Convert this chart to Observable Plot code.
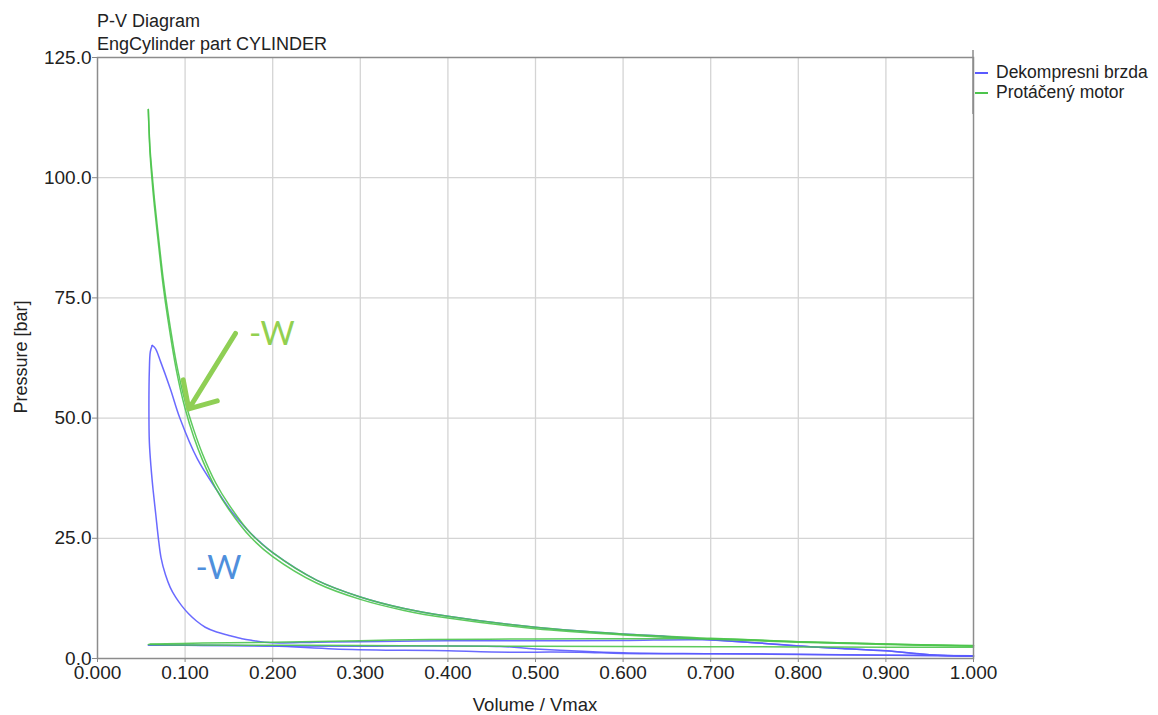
<!DOCTYPE html>
<html><head><meta charset="utf-8">
<script src="https://cdn.jsdelivr.net/npm/d3@7"></script>
<script src="https://cdn.jsdelivr.net/npm/@observablehq/plot@0.6"></script>
<style>body{margin:0;background:#fff}#chart svg{display:block}</style>
</head><body><div id="chart"></div>
<script>
// ---- Data ----
const titleLines = ["P-V Diagram", "EngCylinder part CYLINDER"];
const xLabel = "Volume / Vmax";
const yLabel = "Pressure [bar]";
const xTicks = [0, 0.1, 0.2, 0.3, 0.4, 0.5, 0.6, 0.7, 0.8, 0.9, 1.0];
const yTicks = [0, 25, 50, 75, 100, 125];
const seriesNames = ["Dekompresni brzda", "Protáčený motor"];
const seriesColors = ["#5a5aff", "#4cc44c"];

// Protáčený motor (motored engine) — [V/Vmax, p bar]
const motorCompression = [[1.0,2.6],[0.9,3.0],[0.8,3.5],[0.7,4.2],[0.6,5.1],[0.5,6.5],[0.4,8.8],[0.35,10.4],[0.3,12.8],[0.25,16.3],[0.2,22.0],[0.175,26.0],[0.15,32.0],[0.135,36.5],[0.12,42.5],[0.11,47.5],[0.1,53.5],[0.09,61.5],[0.08,72.5],[0.075,79.0],[0.07,87.0],[0.065,95.5],[0.0625,100.5],[0.06,106.0],[0.058,114.2]];
const motorExpansion = [[0.058,114.2],[0.06,105.0],[0.0625,99.0],[0.065,94.0],[0.07,85.5],[0.075,77.5],[0.08,71.0],[0.09,60.0],[0.1,52.0],[0.11,46.0],[0.12,41.2],[0.135,35.4],[0.15,31.0],[0.175,25.2],[0.2,21.2],[0.25,15.7],[0.3,12.3],[0.35,10.0],[0.4,8.4],[0.5,6.2],[0.6,4.9],[0.7,4.0],[0.8,3.4],[0.9,2.9],[1.0,2.6]];
const motorExhaust = [[1.0,2.7],[0.9,3.0],[0.8,3.5],[0.7,4.1],[0.6,4.1],[0.5,4.05],[0.38,3.95],[0.3,3.7],[0.2,3.4],[0.12,3.2],[0.06,3.0]];
const motorIntake = [[0.058,2.9],[0.1,2.8],[0.2,2.75],[0.3,2.7],[0.4,2.6],[0.5,2.55],[0.6,2.5],[0.7,2.45],[0.8,2.4],[0.9,2.35],[1.0,2.35]];

// Dekompresni brzda (decompression brake)
const brakeCompression = [[1.0,0.5],[0.95,0.8],[0.9,1.6],[0.85,2.1],[0.8,2.6],[0.75,3.3],[0.7,3.9],[0.65,4.6],[0.6,5.1],[0.5,6.5],[0.4,8.8],[0.35,10.4],[0.3,12.8],[0.25,16.3],[0.2,22.0],[0.185,24.3],[0.171,26.8],[0.152,30.8],[0.137,34.8],[0.114,41.5],[0.094,50.0],[0.0833,56.0],[0.0719,61.8],[0.066,64.5],[0.0624,65.1]];
const brakeExpansion = [[0.0624,65.1],[0.0603,63.8],[0.0592,60.0],[0.0587,52.0],[0.0592,45.0],[0.061,40.0],[0.0635,35.0],[0.0665,30.0],[0.0695,25.0],[0.0725,21.0],[0.0776,17.4],[0.083,14.8],[0.089,12.8],[0.096,11.0],[0.104,9.3],[0.113,7.8],[0.123,6.5],[0.136,5.5],[0.15,4.8],[0.165,4.1],[0.1766,3.75],[0.199,3.25],[0.25,3.4],[0.3,3.5],[0.4,3.7],[0.5,3.7],[0.6,3.75],[0.69,3.9],[0.75,3.3],[0.8,2.6],[0.85,2.1],[0.9,1.6],[0.95,0.8],[1.0,0.45]];
const brakeExhaust = [[1.0,0.5],[0.9,0.7],[0.8,0.85],[0.7,1.0],[0.6,1.05],[0.55,1.3],[0.45,1.35],[0.4,1.6],[0.35,1.7],[0.27,2.0],[0.2,2.6],[0.12,2.7],[0.06,2.8]];
const brakeIntake = [[0.058,2.75],[0.15,2.7],[0.2,2.6],[0.3,2.55],[0.46,2.5],[0.5,2.0],[0.6,1.2],[0.7,1.0],[0.85,0.8],[1.0,0.55]];

// Annotations
const annotText = ["-W", "-W"];
const annotV = [0.199, 0.138];
const annotP = [67.5, 18.8];
const annotColors = ["#92d050", "#4f8fdc"];
const arrowFrom = [0.1575, 67.6];
const arrowTo = [0.1042, 51.9];

// ---- Build tables ----
function rows(arr, series, part) { return arr.map(([V, P]) => ({V, P, series, part})); }
const lineData = [
  ...rows(brakeCompression, seriesNames[0], "b1"),
  ...rows(brakeExpansion, seriesNames[0], "b2"),
  ...rows(brakeExhaust, seriesNames[0], "b3"),
  ...rows(brakeIntake, seriesNames[0], "b4"),
  ...rows(motorCompression, seriesNames[1], "g1"),
  ...rows(motorExpansion, seriesNames[1], "g2"),
  ...rows(motorExhaust, seriesNames[1], "g3"),
  ...rows(motorIntake, seriesNames[1], "g4"),
];
const annots = annotText.map((t, i) => ({t, V: annotV[i], P: annotP[i], c: annotColors[i]}));
const arrows = [{x1: arrowFrom[0], y1: arrowFrom[1], x2: arrowTo[0], y2: arrowTo[1]}];

const font = "'Liberation Sans', Arial, sans-serif";
const W = 1158, H = 715;
const chart = Plot.plot({
  width: W, height: H,
  marginLeft: 97, marginRight: 185, marginTop: 57, marginBottom: 57,
  style: {fontFamily: font, fontSize: "18px", background: "#fff", color: "#222"},
  x: {domain: [0, 1]},
  y: {domain: [0, 125]},
  color: {domain: seriesNames, range: seriesColors},
  marks: [
    Plot.gridX(xTicks.slice(1, -1), {stroke: "#d4d4d4", strokeOpacity: 1, strokeWidth: 1.3}),
    Plot.gridY(yTicks.slice(1, -1), {stroke: "#d4d4d4", strokeOpacity: 1, strokeWidth: 1.3}),
    Plot.axisX(xTicks, {tickFormat: d3.format(".3f"), tickSize: 4, tickPadding: 3, fontSize: 19, label: null, stroke: "#888"}),
    Plot.axisY(yTicks, {tickFormat: d3.format(".1f"), tickSize: 5, tickPadding: 1, fontSize: 19, label: null, stroke: "#888"}),
    Plot.line(lineData, {x: "V", y: "P", z: "part", stroke: "series", strokeWidth: 1.5, strokeOpacity: 0.9, curve: "catmull-rom"}),
    Plot.arrow(arrows, {x1: "x1", y1: "y1", x2: "x2", y2: "y2", stroke: "#8fcf55", strokeWidth: 5, headLength: 20, headAngle: 85, bend: 0}),
    Plot.text(annots, {x: "V", y: "P", text: "t", fill: "c", fontSize: 33, fontFamily: "Lato, 'Open Sans', sans-serif", textAnchor: "middle", lineAnchor: "middle"}),
    Plot.frame({stroke: "#8c8c8c", strokeWidth: 1.5})
  ]
});
document.getElementById("chart").appendChild(chart);

// Titles, axis labels, legend
const svg = d3.select(chart);
const txt = svg.append("g").attr("font-family", font).attr("fill", "#222");
txt.selectAll("text.title").data(titleLines).join("text")
  .attr("x", 97).attr("y", (d, i) => 22 + i * 23).attr("text-anchor", "start")
  .attr("dominant-baseline", "middle").attr("font-size", 18).text(d => d);
txt.append("text").attr("x", 535).attr("y", 706).attr("text-anchor", "middle")
  .attr("dominant-baseline", "middle").attr("font-size", 18.5).text(xLabel);
txt.append("text").attr("transform", "translate(22,357) rotate(-90)").attr("text-anchor", "middle")
  .attr("dominant-baseline", "middle").attr("font-size", 18).text(yLabel);
const leg = svg.append("g").attr("font-family", font);
leg.append("line").attr("x1", 973).attr("x2", 973).attr("y1", 50).attr("y2", 114).attr("stroke", "#8c8c8c").attr("stroke-width", 1.5);
seriesNames.forEach((n, i) => {
  const y = 73 + i * 20;
  leg.append("line").attr("x1", 975).attr("x2", 988).attr("y1", y).attr("y2", y).attr("stroke", seriesColors[i]).attr("stroke-width", 2);
  leg.append("text").attr("x", 996).attr("y", y).attr("text-anchor", "start").attr("dominant-baseline", "middle").attr("font-size", 17.5).attr("fill", "#222").text(n);
});
</script></body></html>
